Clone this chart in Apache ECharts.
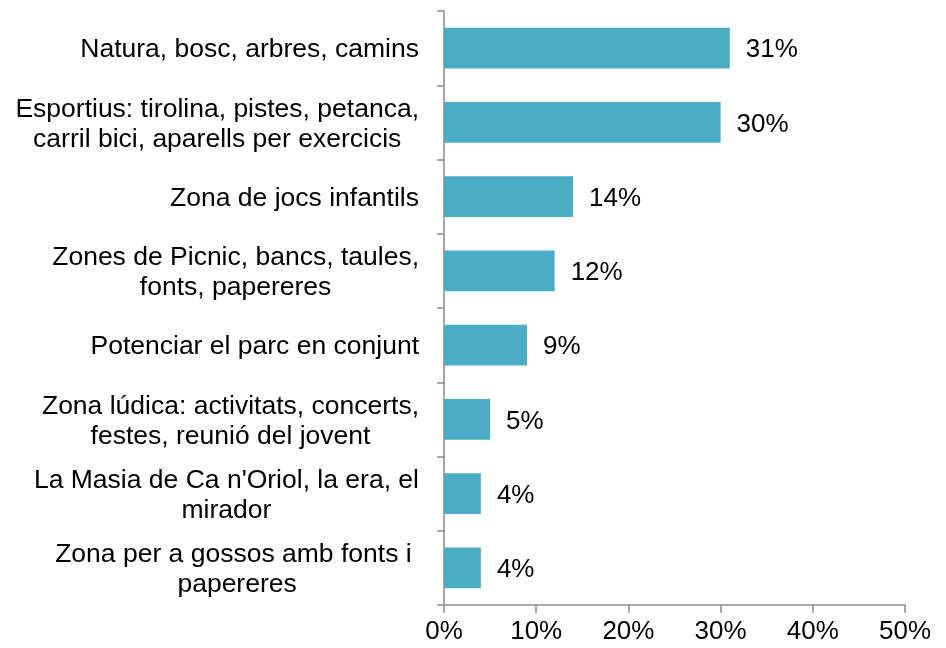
<!DOCTYPE html>
<html>
<head>
<meta charset="utf-8">
<script src="https://cdn.jsdelivr.net/npm/echarts@6/dist/echarts.min.js"></script>
<style>
  html, body { margin: 0; padding: 0; background: #ffffff; }
  #chart { width: 946px; height: 648px; }
</style>
</head>
<body>
<div id="chart"></div>
<script>
// Survey answers: what people value most in the park (share of responses, %)
const categories = [
  'Natura, bosc, arbres, camins',
  'Esportius: tirolina, pistes, petanca,\ncarril bici, aparells per exercicis',
  'Zona de jocs infantils',
  'Zones de Picnic, bancs, taules,\nfonts, papereres',
  'Potenciar el parc en conjunt',
  'Zona lúdica: activitats, concerts,\nfestes, reunió del jovent',
  "La Masia de Ca n'Oriol, la era, el\nmirador",
  'Zona per a gossos amb fonts i \npapereres'
];
const shares = [31, 30, 14, 12, 9, 5, 4, 4];
const axisTicks = [0, 10, 20, 30, 40, 50];

const FONT = '"Liberation Sans", Arial, Helvetica, sans-serif';
const AXIS_GREY = '#8a8a8a';

const chart = echarts.init(document.getElementById('chart'), null, { renderer: 'canvas' });

chart.setOption({
  animation: false,
  backgroundColor: '#ffffff',
  textStyle: { fontFamily: FONT },
  grid: { left: 444, right: 41, top: 11, bottom: 43, containLabel: false },
  xAxis: {
    type: 'value',
    min: axisTicks[0],
    max: axisTicks[axisTicks.length - 1],
    interval: axisTicks[1] - axisTicks[0],
    splitLine: { show: false },
    axisLine: { show: true, lineStyle: { color: AXIS_GREY, width: 1.5 } },
    axisTick: { show: true, length: 8, lineStyle: { color: AXIS_GREY, width: 1.5 } },
    axisLabel: {
      margin: 14,
      color: '#000000',
      fontFamily: FONT,
      fontSize: 26,
      formatter: v => v + '%'
    }
  },
  yAxis: {
    type: 'category',
    data: categories,
    inverse: true,
    boundaryGap: true,
    axisLine: { show: true, lineStyle: { color: AXIS_GREY, width: 1.5 } },
    axisTick: { show: true, length: 7, alignWithLabel: false, lineStyle: { color: AXIS_GREY, width: 1.5 } },
    axisLabel: {
      margin: 25,
      color: '#000000',
      fontFamily: FONT,
      fontSize: 26.5,
      lineHeight: 30,
      padding: [4, 0, 0, 0],
      formatter: v => '{c|' + v + '}',
      rich: {
        c: { align: 'center', fontFamily: FONT, fontSize: 26.5, lineHeight: 30, color: '#000000' }
      }
    }
  },
  series: [{
    type: 'bar',
    data: shares,
    barCategoryGap: '45%',
    itemStyle: { color: '#4bacc6' },
    label: {
      show: true,
      position: 'right',
      distance: 16,
      offset: [0, 2],
      color: '#000000',
      fontFamily: FONT,
      fontSize: 26,
      formatter: p => p.value + '%'
    }
  }]
});
</script>
</body>
</html>
